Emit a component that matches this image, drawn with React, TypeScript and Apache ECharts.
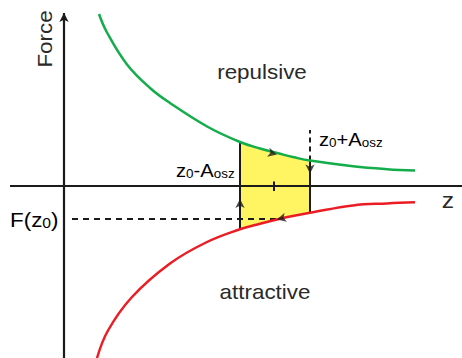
import React, { useEffect, useRef } from "react";
import * as echarts from "echarts";

// Force curves, sampled as [z, F] pairs (arbitrary units, origin where the axes cross)
const repulsiveCurve: [number, number][] = [
  [3.5, 17.2], [4.3, 15.35], [6.3, 12.15], [8.6, 9.8], [10.6, 8.3], [14.4, 5.9],
  [17.6, 4.4], [19.6, 3.75], [21.6, 3.22], [23.0, 2.87], [24.6, 2.54],
  [28.9, 1.97], [32.3, 1.68], [35.1, 1.54],
];
const attractiveCurve: [number, number][] = [
  [3.3, -17.2], [4.4, -14.45], [6.8, -11.1], [10.6, -7.75], [14.2, -5.65],
  [17.6, -4.33], [19.6, -3.77], [21.6, -3.27], [23.0, -2.97], [24.6, -2.67],
  [28.9, -1.94], [32.3, -1.74], [35.1, -1.63],
];

// Oscillation window and working point
const zLower = 17.6; // z0 - A_osz
const zUpper = 24.6; // z0 + A_osz
const z0 = 21.0;
const forceAtZ0 = -3.3;
const upperMarkerTop = 5.6;

// Axis extents
const zAxisRange: [number, number] = [-5.4, 39.8];
const forceAxisRange: [number, number] = [-17.2, 17.3];

const GREEN = "#13ad4b";
const RED = "#ec1c24";
const YELLOW = "#fff462";
const INK = "#1b1b1b";
const TEXT = "#2a2a2a";
const STRETCH = 1.12;

const valueAt = (curve: [number, number][], z: number) => {
  const hit = curve.find((p) => Math.abs(p[0] - z) < 1e-6);
  return hit ? hit[1] : 0;
};

const segment = (
  a: [number, number],
  b: [number, number],
  style: Record<string, unknown> = {}
) => ({
  type: "line",
  data: [a, b],
  showSymbol: false,
  silent: true,
  z: 5,
  lineStyle: { color: INK, width: 2, ...style },
});

const arrow = (p: [number, number], rotate: number, color = INK) => ({
  type: "scatter",
  data: [p],
  symbol: "arrow",
  symbolSize: [7, 9],
  symbolRotate: rotate,
  silent: true,
  z: 8,
  itemStyle: { color },
});

export default function App() {
  const ref = useRef<HTMLDivElement>(null);

  useEffect(() => {
    if (!ref.current) return;
    const chart = echarts.init(ref.current, undefined, { renderer: "svg" });

    const topBand = repulsiveCurve.filter((p) => p[0] >= zLower && p[0] <= zUpper);
    const bottomBand = attractiveCurve
      .filter((p) => p[0] >= zLower && p[0] <= zUpper)
      .slice()
      .reverse();

    const greenLower = valueAt(repulsiveCurve, zLower);
    const greenUpper = valueAt(repulsiveCurve, zUpper);
    const redLower = valueAt(attractiveCurve, zLower);
    const redUpper = valueAt(attractiveCurve, zUpper);

    const sans = "Liberation Sans, Arial, sans-serif";
    const sub = (main: number) => ({
      a: { fontSize: main, fontFamily: sans, color: TEXT, lineHeight: 22, verticalAlign: "bottom" },
      s: { fontSize: Math.round(main * 0.68), fontFamily: sans, color: TEXT, lineHeight: 10, verticalAlign: "bottom" },
    });
    const plain = (text: string, x: number, y: number, size: number, rotation = 0) => ({
      type: "text",
      x,
      y,
      rotation,
      scaleX: STRETCH,
      style: { text, fontSize: size, fontFamily: sans, fill: TEXT, align: "center", verticalAlign: "middle" },
    });
    const subscripted = (text: string, x: number, y: number, size: number) => ({
      type: "text",
      x,
      y,
      scaleX: STRETCH,
      style: { text, rich: sub(size), align: "left", verticalAlign: "middle" },
    });

    chart.setOption({
      animation: false,
      backgroundColor: "#ffffff",
      grid: { left: 0, right: 0, top: 0, bottom: 0 },
      xAxis: { type: "value", min: -6.4, max: 39.8, show: false },
      yAxis: { type: "value", min: -17.2, max: 18.6, show: false },
      series: [
        {
          type: "custom",
          silent: true,
          z: 1,
          data: [0],
          renderItem: (_params: unknown, api: any) => ({
            type: "polygon",
            shape: {
              points: [...topBand, ...bottomBand].map((p) => api.coord(p)),
            },
            style: { fill: YELLOW },
          }),
        },
        // axes
        segment([zAxisRange[0], 0], [zAxisRange[1], 0], { width: 2.2 }),
        {
          type: "line",
          data: [
            { value: [0, forceAxisRange[0]], symbol: "none" },
            { value: [0, forceAxisRange[1]], symbol: "arrow", symbolSize: [7, 9] },
          ],
          showSymbol: true,
          silent: true,
          z: 5,
          itemStyle: { color: INK },
          lineStyle: { color: INK, width: 2.2 },
        },
        // force curves
        {
          type: "line",
          data: repulsiveCurve,
          smooth: 0.4,
          showSymbol: false,
          silent: true,
          z: 6,
          lineStyle: { color: GREEN, width: 2.5 },
        },
        {
          type: "line",
          data: attractiveCurve,
          smooth: 0.4,
          showSymbol: false,
          silent: true,
          z: 6,
          lineStyle: { color: RED, width: 2.5 },
        },
        // oscillation bounds
        segment([zLower, redLower], [zLower, greenLower]),
        segment([zUpper, redUpper], [zUpper, greenUpper]),
        segment([zUpper, greenUpper], [zUpper, upperMarkerTop], { type: [5, 4] }),
        // F(z0) guide
        segment([0.8, forceAtZ0], [z0 + 0.3, forceAtZ0], { type: [6, 5] }),
        // z0 tick
        segment([z0, 0.45], [z0, -0.5]),
        // cycle direction
        arrow([21.3, 3.15], -104),
        arrow([21.3, -3.35], 104),
        arrow([zLower, -1.3], 0),
        arrow([zUpper, 1.25], 180),
      ],
      graphic: [
        plain("Force", 45, 39, 20, Math.PI / 2),
        plain("repulsive", 262, 72, 20),
        plain("attractive", 265, 292, 20),
        plain("z", 448, 200, 22),
        subscripted("{a|F(z}{s|0}{a|)}", 10, 219, 20),
        subscripted("{a|z}{s|0}{a|-A}{s|osz}", 176, 169, 18),
        subscripted("{a|z}{s|0}", 267, 169, 18),
        subscripted("{a|z}{s|0}{a|+A}{s|osz}", 319, 138, 18),
      ],
    });

    return () => chart.dispose();
  }, []);

  return (
    <div
      ref={ref}
      style={{ position: "absolute", left: 0, top: 0, width: 462, height: 358, background: "#fff" }}
    />
  );
}
